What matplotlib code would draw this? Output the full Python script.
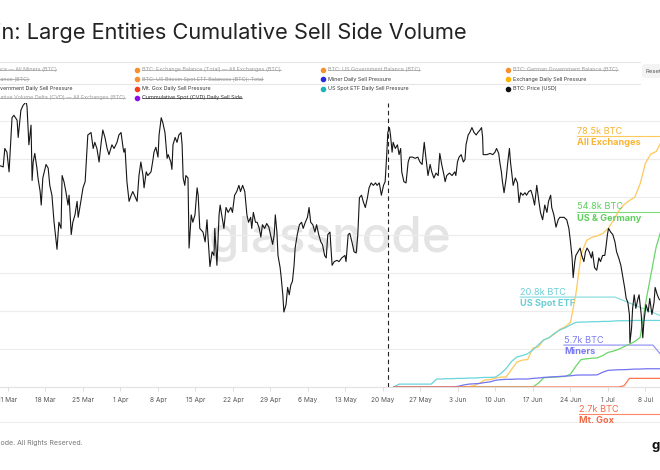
import numpy as np
import pandas as pd
import matplotlib
matplotlib.use("Agg")
import matplotlib.pyplot as plt
import matplotlib.dates as mdates
from matplotlib.lines import Line2D
from matplotlib.patches import FancyBboxPatch

plt.rcParams['font.family'] = ['Inter', 'DejaVu Sans']

start = pd.Timestamp('2024-03-11')

# BTC price, k USD, at days since 11 Mar 2024
price_day = [
    -1.5, -0.9, -0.6, -0.2, 0.2, 0.75, 1.1, 1.7, 1.9, 2.4, 2.8, 3.4, 3.55, 3.9, 4.3, 4.5, 4.7, 5.0,
    5.4, 5.6, 6.0, 6.2, 6.5, 7.1, 7.5, 7.8, 8.2, 8.6, 8.8, 9.15, 9.5, 9.9, 10.1, 10.45, 10.8, 11.2,
    11.4, 11.8, 12.1, 12.5, 12.9, 13.1, 13.6, 14.0, 14.4, 14.75, 14.9, 15.5, 15.9, 16.2, 16.6, 17.0,
    17.4, 17.7, 18.1, 18.5, 18.85, 19.4, 19.8, 20.35, 20.7, 21.1, 21.5, 21.65, 21.85, 22.2, 22.6,
    23.0, 23.3, 23.7, 24.1, 24.45, 24.8, 25.2, 25.4, 25.8, 26.1, 26.7, 27.1, 27.25, 27.6, 28.0,
    28.2, 28.6, 28.9, 29.3, 29.7, 29.9, 30.4, 30.6, 30.8, 31.2, 31.55, 31.9, 32.3, 32.5, 32.7, 33.0,
    33.2, 33.6, 33.8, 34.2, 34.5, 34.9, 35.3, 35.5, 35.8, 36.4, 36.8, 37.15, 37.3, 37.7, 38.1,
    38.45, 38.6, 39.0, 39.4, 39.6, 39.9, 40.3, 40.7, 41.1, 41.6, 41.9, 42.3, 42.7, 43.1, 43.4, 43.8,
    44.2, 44.6, 44.9, 45.3, 45.5, 45.8, 46.2, 46.5, 46.9, 47.2, 47.5, 47.9, 48.3, 48.7, 49.0, 49.4,
    49.7, 49.9, 50.2, 50.4, 50.8, 51.0, 51.3, 51.5, 51.9, 52.2, 52.5, 52.8, 53.1, 53.4, 53.6, 54.0,
    54.4, 54.8, 55.1, 55.5, 55.9, 56.2, 56.5, 56.9, 57.3, 57.6, 58.0, 58.4, 58.7, 59.1, 59.4, 59.7,
    60.1, 60.5, 60.9, 61.4, 61.8, 62.3, 62.9, 63.1, 63.5, 63.8, 64.2, 64.6, 65.0, 65.3, 65.6, 66.0,
    66.3, 66.7, 67.1, 67.4, 67.8, 68.2, 68.6, 68.9, 69.3, 69.7, 70.1, 70.4, 70.7, 70.9, 71.2, 71.4,
    71.7, 71.9, 72.3, 72.7, 73.0, 73.3, 73.5, 73.9, 74.3, 74.7, 75.0, 75.5, 76.0, 76.5, 76.9, 77.3,
    77.7, 78.0, 78.4, 78.8, 79.1, 79.5, 79.9, 80.3, 80.6, 80.96, 81.4, 81.6, 81.9, 82.4, 82.9, 83.4,
    83.6, 83.9, 84.2, 84.6, 85.0, 85.3, 85.5, 85.9, 86.2, 86.6, 87.0, 87.4, 87.7, 88.1, 88.4, 88.6,
    88.7, 89.4, 90.0, 90.5, 90.9, 91.2, 91.6, 91.8, 92.1, 92.3, 92.6, 93.0, 93.3, 93.6, 93.8, 94.1,
    94.3, 94.7, 95.1, 95.4, 95.7, 96.1, 96.5, 96.8, 97.2, 97.6, 97.9, 98.3, 98.7, 99.1, 99.4, 99.8,
    100.2, 100.6, 100.9, 101.3, 101.5, 101.9, 102.3, 102.7, 103.0, 103.4, 103.8, 104.3, 104.7,
    105.0, 105.3, 105.5, 105.8, 106.0, 106.4, 106.8, 107.1, 107.5, 107.8, 108.1, 108.5, 108.9,
    109.1, 109.5, 109.9, 110.3, 110.6, 111.0, 111.4, 111.6, 111.9, 112.1, 112.5, 112.9, 113.3,
    113.6, 114.0, 114.4, 114.6, 114.9, 115.1, 115.4, 115.7, 116.0, 116.1, 116.4, 116.6, 116.9,
    117.2, 117.6, 117.8, 118.2, 118.5, 118.7, 119.1, 119.5, 119.8, 120.2, 120.6, 120.8, 121.2, 121.6,
]
price_k = [
    68.4, 68.3, 69.8, 69.5, 67.9, 72.3, 72.5, 72.1, 70.7, 72.9, 73.3, 73.6, 73.2, 70.1, 71.7, 67.2, 68.7, 69.4,
    68.2, 67.4, 66.3, 65.2, 67.4, 68.5, 68.2, 66.8, 66.0, 63.8, 63.0, 61.6, 63.8, 63.3, 67.6, 67.1, 66.3, 65.2,
    66.0, 62.8, 63.8, 64.4, 65.5, 64.2, 65.5, 66.6, 67.1, 69.8, 70.9, 71.1, 69.8, 70.3, 69.8, 68.7,
    70.3, 71.3, 70.7, 69.8, 69.3, 70.1, 69.8, 70.3, 70.9, 71.1, 69.8, 69.5, 69.8, 67.1, 65.5,
    66.0, 66.3, 65.9, 65.5, 67.6, 68.7, 67.6, 66.6, 67.9, 67.6, 67.9, 69.0, 69.5, 69.9, 69.1,
    70.9, 72.3, 71.9, 71.1, 69.0, 69.3, 68.7, 68.1, 70.1, 70.7, 70.3, 70.9, 71.1, 70.1, 67.4, 66.8,
    67.6, 67.4, 61.7, 64.4, 63.8, 64.4, 66.6, 66.0, 63.3, 63.0, 62.2, 64.0, 62.8, 60.2, 61.4,
    61.1, 63.3, 60.3, 64.4, 65.2, 64.4, 63.3, 65.0, 64.6, 65.0, 64.6, 66.0, 66.3, 66.8, 66.3, 66.8,
    66.3, 64.4, 63.8, 64.2, 63.3, 64.6, 63.8, 63.8, 63.3, 62.6, 63.6, 63.3, 63.7, 63.4, 62.8, 62.0,
    62.8, 64.4, 63.0, 61.1, 60.1, 59.3, 57.9, 56.5, 57.1, 58.5, 57.9, 58.7, 59.0, 60.3, 61.7, 62.8,
    63.6, 63.8, 63.3, 63.8, 64.2, 65.0, 63.8, 63.6, 63.0, 63.6, 62.8, 62.2, 62.0, 61.1, 60.9, 62.8,
    63.0, 60.3, 60.6, 60.7, 60.6, 60.9, 61.1, 60.6, 62.8, 62.9, 62.2, 61.4, 61.3, 62.8, 65.8, 66.0,
    65.5, 65.0, 65.8, 66.6, 67.0, 66.8, 67.0, 66.8, 67.0, 66.0, 66.8, 67.1, 69.3, 71.1, 71.5, 70.9,
    69.5, 70.3, 69.8, 70.1, 69.3, 69.8, 67.9, 67.1, 67.0, 68.7, 69.1, 69.1, 69.0, 69.1, 68.7, 68.5,
    70.3, 69.1, 67.6, 68.5, 67.9, 67.4, 67.8, 67.6, 69.4, 68.5, 67.6, 67.1, 67.6, 67.8, 67.6, 67.9,
    67.6, 68.7, 69.1, 69.3, 68.7, 68.9, 70.1, 70.9, 71.1, 71.5, 71.1, 70.9, 71.1, 71.3, 71.5, 70.7,
    69.3, 69.3, 69.4, 69.3, 69.5, 69.8, 69.4, 68.7, 67.9, 67.1, 66.2, 67.4, 68.7, 69.8, 68.7, 67.6,
    66.8, 67.4, 67.0, 65.4, 66.2, 66.0, 66.2, 66.0, 66.3, 66.4, 66.0, 65.2, 66.8, 65.5, 64.6, 64.0,
    65.2, 64.6, 65.5, 66.0, 65.0, 64.4, 63.4, 64.0, 64.2, 64.2, 64.2, 64.0, 63.3,
    62.2, 60.9, 59.3, 60.6, 61.1, 61.4, 61.7, 61.1, 60.6, 61.4, 61.7, 61.4, 60.9,
    61.4, 60.1, 59.9, 60.9, 60.6, 61.1, 61.1, 61.7, 62.8, 63.3, 63.0, 62.8, 62.2,
    61.4, 60.9, 60.3, 59.8, 59.0, 58.5, 57.6, 57.3, 56.3, 54.0, 55.2, 56.8, 57.9,
    56.8, 57.6, 57.9, 56.3, 54.4, 55.7, 57.1, 56.5, 57.6, 56.3, 57.3, 58.5, 57.9, 57.5,
]

# cumulative sell side volume, k BTC, daily from 22 May (day 72) to 13 Jul (day 124)
sell_day = list(range(72, 125))
exchanges = [0] * 14 + [
    0.1, 0.4, 1.2, 2.2, 2.3, 2.8, 3.1, 3.1, 5.5, 7.8, 8.4, 8.6, 12.2, 12.5, 14.7, 15.4, 16.5,
    18.0, 18.8, 20.2, 29.0, 41.5, 45.8, 46.8, 47.2, 48.0, 49.5, 52.0, 55.0, 57.0, 58.3, 59.3,
    63.5, 70.0, 72.8, 73.6, 76.8, 77.9, 78.5]
us_germany = [0] * 27 + [
    1.2, 2.9, 3.0, 3.1, 3.2, 3.3, 4.0, 6.5, 8.6, 8.8, 9.0, 9.1, 9.8, 10.8, 11.2, 11.8, 12.6,
    13.4, 14.2, 15.5, 26.0, 35.0, 43.8, 49.5, 52.5, 54.8]
spot_etf = [0, 0.9, 0.9, 0.9, 0.9, 0.9, 0.9, 0.9,
            2.5, 2.5, 2.6, 2.6, 2.7, 2.7, 2.8, 2.8, 2.9, 3.0, 3.0, 3.1, 4.2, 5.8, 8.0, 9.4, 9.8,
            10.4, 11.6, 13.2, 14.7, 15.4, 16.8, 17.8, 18.5, 19.4, 20.2, 20.3, 20.3, 20.4, 20.4,
            20.5, 20.5, 20.6, 20.7, 20.7, 20.7, 20.8] + [20.8] * 7
miners = [0] * 12 + [
    0.2, 0.6, 0.9, 1.0, 1.1, 1.4, 1.6, 2.1, 2.3, 2.4, 2.4, 2.5, 2.5, 2.5, 2.7, 2.8, 3.0, 3.1,
    3.2, 3.3, 3.4, 3.5, 3.7, 3.75, 3.75, 3.75, 3.8, 4.6, 5.2, 5.3, 5.4, 5.4, 5.5, 5.6, 5.6,
    5.7, 5.7, 5.7, 5.7, 5.7, 5.7]
mt_gox = [0] * 43 + [0.4] + [2.7] * 9

ticks_from = '2024-03-11'
ticks_to = '2024-07-08'

legend_rows = [
    [("BTC: Miner Balance — All Miners (BTC)", '#f5922f', True),
     ("BTC: Exchange Balance (Total) — All Exchanges (BTC)", '#f5922f', True),
     ("BTC: US Government Balance (BTC)", '#f5922f', True),
     ("BTC: German Government Balance (BTC)", '#f5922f', True)],
    [("BTC: Mt. Gox Balance (BTC)", '#f5922f', True),
     ("BTC: US Bitcoin Spot ETF Balances (BTC): Total", '#f5922f', True),
     ("Miner Daily Sell Pressure", '#2a2ae0', False),
     ("Exchange Daily Sell Pressure", '#ffb300', False)],
    [("US & German Government Daily Sell Pressure", '#33c24d', False),
     ("Mt. Gox Daily Sell Pressure", '#f2411b', False),
     ("US Spot ETF Daily Sell Pressure", '#1cb3b8', False),
     ("BTC: Price (USD)", '#111111', False)],
    [("BTC: Spot Cumulative Volume Delta (CVD) — All Exchanges (BTC)", '#f5922f', True),
     ("Cummulative Spot (CVD) Daily Sell Side", '#8a0ff0', True),
     None, None],
]


def t(days):
    return start + pd.to_timedelta(np.asarray(days, dtype=float), unit='D')


W, H = 660, 470
def fx(px):
    return px / W
def fy(py):
    return 1 - py / H


fig = plt.figure(figsize=(6.6, 4.7), dpi=100)
fig.patch.set_facecolor('white')

# watermark behind everything
fig.text(fx(330), fy(252), 'glassnode', fontsize=35.5, color='#e4e4e4',
         ha='center', va='baseline', fontweight='medium', zorder=-5)

ax = fig.add_axes([0, fy(387), 1, (387 - 103) / H])
ax.patch.set_visible(False)
ax.set_xlim(t(-8 / 5.357), t(652 / 5.357))
ax.set_ylim(0, 88.75)
ax.set_yticks(np.arange(0, 88, 11.875))
ax.yaxis.grid(True, color='#ececec', lw=0.8)
ax.tick_params(axis='y', length=0, labelleft=False)
for s in ['top', 'right', 'left']:
    ax.spines[s].set_visible(False)
ax.spines['bottom'].set_color('#e2e2e2')
ax.spines['bottom'].set_linewidth(0.8)
ax.set_xticks(pd.date_range(ticks_from, ticks_to, freq='7D'))
ax.xaxis.set_major_formatter(mdates.DateFormatter('%-d %b'))
ax.tick_params(axis='x', labelsize=4.7, labelcolor='#555555', color='#d8d8d8',
               length=3, width=0.6, pad=4)

sd = t(sell_day)
ax.plot(sd, us_germany, color='#6ad66a', lw=0.9, zorder=3)
ax.plot(sd, exchanges, color='#ffc85a', lw=0.9, zorder=3)
ax.plot(sd, spot_etf, color='#6ad5da', lw=0.9, zorder=3)
ax.plot(sd, miners, color='#7474f2', lw=0.9, zorder=3)
ax.plot(sd, mt_gox, color='#ff7651', lw=0.9, zorder=3)

ax.axvline(pd.Timestamp('2024-05-21'), color='#222222', lw=0.8, ls=(0, (4, 3)), zorder=4)

ax2 = ax.twinx()
ax2.patch.set_visible(False)
ax2.set_ylim(50.4, 73.5)
ax2.axis('off')
ax2.plot(t(price_day), price_k, color='#151515', lw=0.8, zorder=5)


def tag(d0, v0, d_knee, d_end, v_end, value_txt, name_txt, lc, tc):
    ax.plot(t([d0, d_knee, d_end]), [v0, v0, v_end], color=lc, lw=0.8, clip_on=False, zorder=2)
    ax.annotate(value_txt, (t(d0), v0), xytext=(0, 1.6), textcoords='offset points',
                ha='left', va='baseline', fontsize=6.6, color=tc, annotation_clip=False)
    ax.annotate(name_txt, (t(d0), v0), xytext=(0, -1.4), textcoords='offset points',
                ha='left', va='top', fontsize=6.6, color=tc, fontweight='bold',
                annotation_clip=False)


tag(106.2, exchanges[-1], 124, 124, exchanges[-1], '78.5k BTC', 'All Exchanges', '#ffc85a', '#f7b436')
tag(106.2, us_germany[-1], 124, 124, us_germany[-1], '54.8k BTC', 'US & Germany', '#7ddb7d', '#5fcf5f')
tag(95.6, 28.1, 113.3, 124, spot_etf[-1], '20.8k BTC', 'US Spot ETF', '#80dade', '#6ccfd4')
tag(103.8, 13.1, 120.4, 124, miners[-1], '5.7k BTC', 'Miners', '#8a8af5', '#7c7cf0')
tag(106.6, -8.4, 123.5, 124, mt_gox[-1], '2.7k BTC', 'Mt. Gox', '#ff8666', '#f26a48')

# title
fig.text(fx(467), fy(39), 'Bitcoin: Large Entities Cumulative Sell Side Volume',
         fontsize=15.7, color='#232323', ha='right', va='baseline')

# legend block
for yy in (62, 83.5):
    fig.add_artist(Line2D([0, fx(640)], [fy(yy), fy(yy)], color='#e6e6e6', lw=0.8,
                          transform=fig.transFigure, zorder=-1))
row_y = [69.5, 79, 88.5, 98]
col_x = [-43.5, 142, 327.5, 513]
struck = []
for r, row in enumerate(row_y):
    for c, cx in enumerate(col_x):
        item = legend_rows[r][c]
        if item is None:
            continue
        label, mc, off = item
        fig.add_artist(Line2D([fx(cx - 5)], [fy(row)], marker='o', ms=3.0, color=mc, lw=0,
                              transform=fig.transFigure))
        tc = '#9a9a9a' if off else '#3a3a3a'
        if label.startswith('Cummulative'):
            tc = '#333333'
        txt = fig.text(fx(cx), fy(row), label, fontsize=3.9, color=tc, ha='left', va='center')
        if off:
            struck.append(txt)

fig.add_artist(FancyBboxPatch((fx(642), fy(78)), fx(40), (78 - 64) / H,
                              boxstyle='round,pad=0,rounding_size=0.006',
                              facecolor='#f3f3f3', edgecolor='none', transform=fig.transFigure))
fig.text(fx(646), fy(71.5), 'Reset', fontsize=4.3, color='#555555', ha='left', va='center')

# footer
fig.add_artist(Line2D([0, 1], [fy(422), fy(422)], color='#eeeeee', lw=0.8,
                      transform=fig.transFigure, zorder=-1))
fig.text(fx(83), fy(443), '© 2024 Glassnode. All Rights Reserved.', fontsize=5.0,
         color='#7a7a7a', ha='right', va='center')
fig.text(fx(652), fy(446), 'glassnode', fontsize=9.5, color='#111111', ha='left',
         va='center', fontweight='bold')

# strike-through for hidden legend series
fig.canvas.draw()
rend = fig.canvas.get_renderer()
for txt in struck:
    bb = txt.get_window_extent(rend)
    yy = (bb.y0 + bb.height * 0.45) / fig.bbox.height
    fig.add_artist(Line2D([bb.x0 / fig.bbox.width, bb.x1 / fig.bbox.width], [yy, yy],
                          color=txt.get_color(), lw=0.5, transform=fig.transFigure))

fig.savefig('out.png', dpi=100, facecolor='white')
